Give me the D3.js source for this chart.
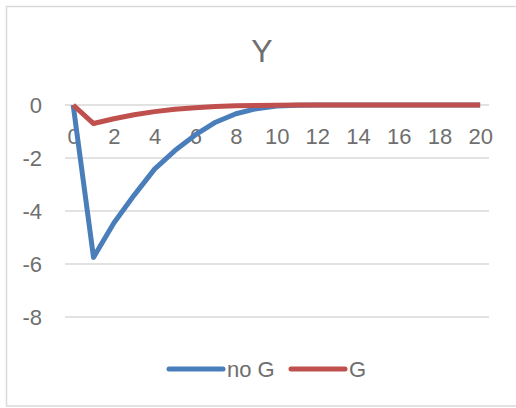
<!DOCTYPE html>
<html>
<head>
<meta charset="utf-8">
<script src="https://cdn.jsdelivr.net/npm/d3@7"></script>
<style>
  html, body { margin: 0; padding: 0; background: #fff; }
  svg { display: block; }
  text { font-family: "Liberation Sans Narrow", "Liberation Sans", sans-serif; fill: #6f6f6f; }
</style>
</head>
<body>
<svg id="chart" width="516" height="408"></svg>
<script>
// Periods 0..20 and the response of Y under the two scenarios
const periods = d3.range(0, 21);
const tickLabels = [0, 2, 4, 6, 8, 10, 12, 14, 16, 18, 20];
const yTicks = [0, -2, -4, -6, -8];
const noG = [0, -5.75, -4.45, -3.4, -2.42, -1.72, -1.13, -0.65, -0.33, -0.14, -0.04,
             -0.01, 0, 0, 0, 0, 0, 0, 0, 0, 0];
const withG = [0, -0.7, -0.52, -0.37, -0.25, -0.16, -0.1, -0.06, -0.03, -0.02, -0.01,
               0, 0, 0, 0, 0, 0, 0, 0, 0, 0];
const seriesNames = ["no G", "G"];
const seriesColors = ["#4a7ebb", "#c0504d"];
const seriesValues = [noG, withG];

const svg = d3.select("#chart");

// outer chart frame
svg.append("rect")
  .attr("x", 6.5).attr("y", 6.5)
  .attr("width", 514).attr("height", 399.5)
  .attr("fill", "#fff").attr("stroke", "#d9d9d9").attr("stroke-width", 1.5);

const plot = { left: 65, right: 489, top: 105, bottom: 317 };

const x = d3.scalePoint()
  .domain(periods)
  .range([63, 490.3])
  .padding(0.5);

const y = d3.scaleLinear()
  .domain([-8, 0])
  .range([plot.bottom, plot.top]);

// horizontal gridlines
svg.append("g")
  .selectAll("line")
  .data(yTicks)
  .join("line")
  .attr("x1", plot.left).attr("x2", plot.right)
  .attr("y1", d => y(d)).attr("y2", d => y(d))
  .attr("stroke", "#d9d9d9").attr("stroke-width", 1.5);

// value axis labels (plain hyphen for negatives)
const yAxis = d3.axisLeft(y).tickValues(yTicks).tickSize(0).tickPadding(0).tickFormat(d => String(d));
const yg = svg.append("g").attr("transform", "translate(42,0)").call(yAxis);
yg.select(".domain").remove();
yg.selectAll("text")
  .attr("font-size", 22)
  .attr("font-family", null)
  .attr("fill", "#6f6f6f")
  .attr("dy", "0.34em");

// category axis labels, placed beneath the zero line
const xAxis = d3.axisBottom(x).tickValues(tickLabels).tickSize(0).tickPadding(0);
const xg = svg.append("g").attr("transform", `translate(0,${y(0)})`).call(xAxis);
xg.select(".domain").remove();
xg.selectAll("text")
  .attr("font-size", 22)
  .attr("font-family", null)
  .attr("fill", "#6f6f6f")
  .attr("y", 39)
  .attr("dy", 0);

// title
svg.append("text")
  .attr("x", 262).attr("y", 62)
  .attr("text-anchor", "middle")
  .attr("font-size", 32)
  .text("Y");

// series lines
const line = d3.line()
  .x((d, i) => x(periods[i]))
  .y(d => y(d));

svg.append("g")
  .selectAll("path")
  .data(seriesValues)
  .join("path")
  .attr("d", d => line(d))
  .attr("fill", "none")
  .attr("stroke", (d, i) => seriesColors[i])
  .attr("stroke-width", 5)
  .attr("stroke-linejoin", "round");

// legend
const legendItems = [
  { name: seriesNames[0], color: seriesColors[0], x1: 169, x2: 223, tx: 227 },
  { name: seriesNames[1], color: seriesColors[1], x1: 291, x2: 345, tx: 349 }
];
const lg = svg.append("g");
lg.selectAll("line")
  .data(legendItems)
  .join("line")
  .attr("x1", d => d.x1).attr("x2", d => d.x2)
  .attr("y1", 369).attr("y2", 369)
  .attr("stroke", d => d.color)
  .attr("stroke-width", 5)
  .attr("stroke-linecap", "round");
lg.selectAll("text")
  .data(legendItems)
  .join("text")
  .attr("x", d => d.tx).attr("y", 377)
  .attr("font-size", 22)
  .text(d => d.name);
</script>
</body>
</html>
